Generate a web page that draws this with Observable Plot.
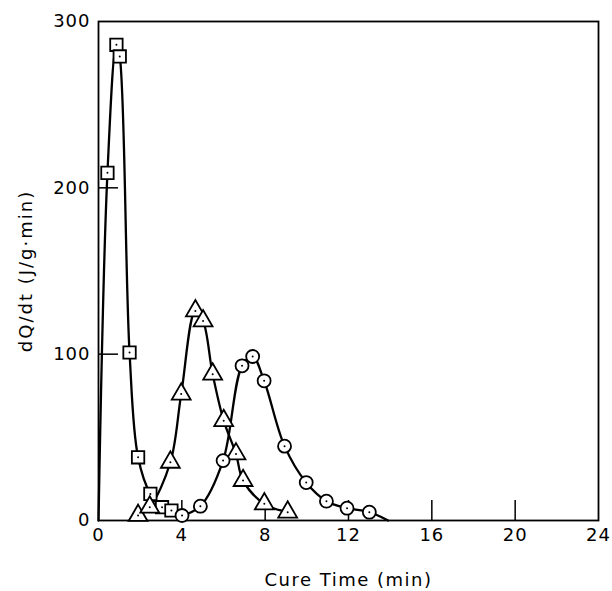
<!DOCTYPE html>
<html>
<head>
<meta charset="utf-8">
<script src="https://cdn.jsdelivr.net/npm/d3@7"></script>
<script src="https://cdn.jsdelivr.net/npm/@observablehq/plot@0.6"></script>
<style>
  html, body { margin: 0; padding: 0; background: #fff; }
  #chart { width: 612px; height: 591px; }
</style>
</head>
<body>
<div id="chart"></div>
<script>
// Square series
const sqX = [0.43, 0.86, 1.02, 1.49, 1.90, 2.49, 3.05, 3.50];
const sqY = [209, 286, 279, 101, 38, 16, 8, 6];
const sqLineStart = [0, 0];

// Triangle series
const triX = [1.90, 2.46, 3.45, 3.97, 4.65, 5.02, 5.48, 6.01, 6.60, 6.94, 7.96, 9.08];
const triY = [3, 8, 35, 76, 126, 120, 88, 60, 40, 24, 10, 5];

// Circle series
const cirX = [4.01, 4.89, 5.98, 6.89, 7.40, 7.95, 8.93, 9.97, 10.94, 11.93, 13.00];
const cirY = [3, 8.6, 36, 93, 98.6, 84, 44.7, 22.8, 11.6, 7.4, 5];
const cirLineEnd = [13.9, 0];

// Axes
const xTicks = [0, 4, 8, 12, 16, 20, 24];
const xInnerTicks = [4, 8, 12, 16, 20];
const yTicks = [0, 100, 200, 300];
const yInnerTicks = [100, 200];
const xLabel = "Cure Time (min)";
const yLabel = "dQ/dt (J/g·min)";

const toPts = (xs, ys) => xs.map((x, i) => ({x, y: ys[i]}));
const sq = toPts(sqX, sqY);
const tri = toPts(triX, triY);
const cir = toPts(cirX, cirY);
const sqLine = [{x: sqLineStart[0], y: sqLineStart[1]}, ...sq];
const triLine = tri;
const cirLine = [...cir, {x: cirLineEnd[0], y: cirLineEnd[1]}];

const font = "DejaVu Sans";
const lw = 2.3;

const plot = Plot.plot({
  width: 612,
  height: 591,
  marginTop: 21,
  marginRight: 14,
  marginBottom: 71,
  marginLeft: 98,
  style: {fontFamily: font, background: "#fff", color: "#000"},
  x: {domain: [0, 24]},
  y: {domain: [0, 300]},
  marks: [
    Plot.frame({stroke: "#000", strokeWidth: 1.8}),
    // tick labels
    Plot.axisY(yTicks, {tickSize: 0, tickPadding: 8, fontSize: 18, label: null}),
    Plot.axisX(xTicks, {tickSize: 0, tickPadding: 8, fontSize: 18, label: null}),
    // inward tick marks
    Plot.axisY(yInnerTicks, {tickSize: 20, dx: 20, tickFormat: () => "", label: null, strokeWidth: 1.5}),
    Plot.axisX(xInnerTicks, {tickSize: 20, dy: -20, tickFormat: () => "", label: null, strokeWidth: 1.5}),
    // axis titles
    Plot.text([xLabel], {text: d => d, frameAnchor: "bottom", textAnchor: "middle", dy: 65, fontSize: 18, lineAnchor: "bottom"}),
    Plot.text([yLabel], {text: d => d, frameAnchor: "left", textAnchor: "middle", dx: -72, rotate: -90, fontSize: 18}),
    // curves
    Plot.line(sqLine, {x: "x", y: "y", curve: "catmull-rom", stroke: "#000", strokeWidth: lw}),
    Plot.line(triLine, {x: "x", y: "y", curve: "catmull-rom", stroke: "#000", strokeWidth: lw}),
    Plot.line(cirLine, {x: "x", y: "y", curve: "catmull-rom", stroke: "#000", strokeWidth: lw}),
    // markers
    Plot.dot(sq, {x: "x", y: "y", symbol: "square", r: 7, fill: "#fff", stroke: "#000", strokeWidth: 1.8}),
    Plot.dot(tri, {x: "x", y: "y", symbol: "triangle", r: 7, fill: "#fff", stroke: "#000", strokeWidth: 1.8}),
    Plot.dot(cir, {x: "x", y: "y", symbol: "circle", r: 6.5, fill: "#fff", stroke: "#000", strokeWidth: 1.8}),
    // center dots
    Plot.dot([...sq, ...tri, ...cir], {x: "x", y: "y", r: 1, fill: "#000", stroke: "none"})
  ]
});

const svg = d3.select(plot);
svg.selectAll("text").filter(function() {
  return this.textContent === xLabel;
}).attr("letter-spacing", "1.5px");
svg.selectAll("text").filter(function() {
  return this.textContent === yLabel;
}).attr("letter-spacing", "2px");
svg.selectAll("text").filter(function() {
  return /^\d+$/.test(this.textContent);
}).attr("letter-spacing", "1px");

document.getElementById("chart").appendChild(plot);
</script>
</body>
</html>
